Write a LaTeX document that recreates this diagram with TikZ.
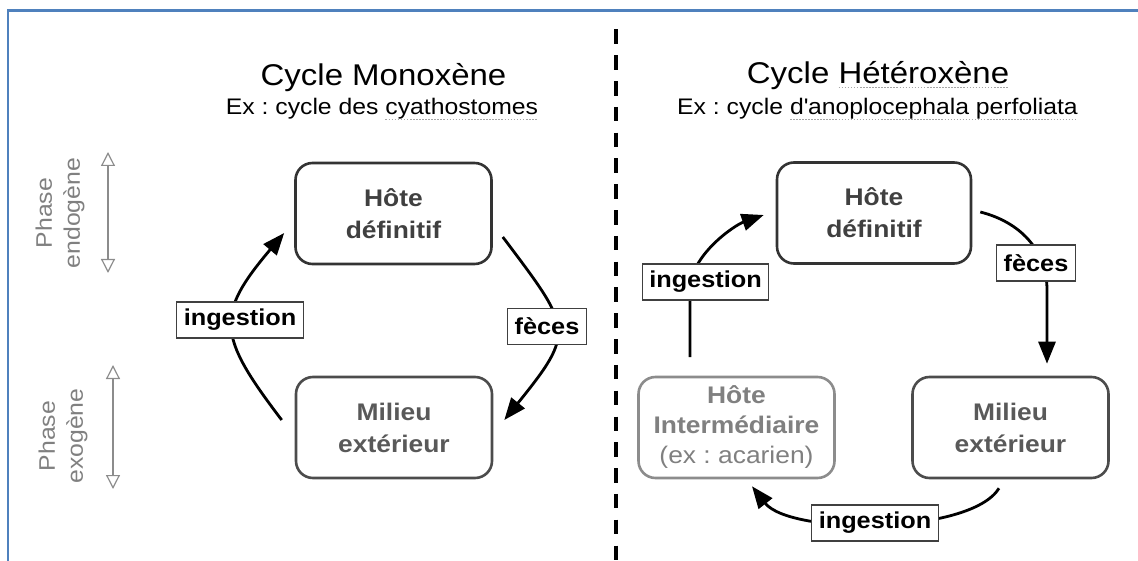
\documentclass[tikz,border=0pt]{standalone}
\usepackage{fontspec}
\setmainfont{Liberation Sans}[FakeStretch=1.1]
\usetikzlibrary{arrows.meta,calc}
\definecolor{frameblue}{HTML}{4F81BD}
\frenchspacing
\newsavebox\gulbox
\newcommand\gul[1]{\sbox\gulbox{#1}\rlap{\usebox\gulbox}\raisebox{-5pt}{\textcolor{black!35}{\hbox to \wd\gulbox{\xleaders\hbox{\rule{1.6pt}{1.2pt}\kern1.4pt}\hfill}}}}
\begin{document}
\begin{tikzpicture}[x=1pt,y=-1pt,
  every node/.style={inner sep=0pt},
  cbox/.style={draw=#1, line width=2.6pt, rounded corners=17pt, minimum width=196pt, minimum height=101pt, align=center},
  boxfont/.style={font=\fontsize{24}{32}\selectfont\bfseries},
  cyc/.style={line width=2.8pt, -{Triangle[length=22pt,width=17pt]}},
  lbl/.style={draw=black!75, line width=1.3pt, fill=white, font=\fontsize{23}{27}\selectfont\bfseries, inner xsep=7pt, minimum height=36pt},
  phase/.style={rotate=90, align=center, text=black!50, font=\fontsize{22.5}{28}\selectfont},
  dbl/.style={draw=black!45, line width=1.2pt, {Triangle[open,length=14pt,width=14pt]}-{Triangle[open,length=14pt,width=14pt]}},
  ttl/.style={anchor=base, font=\fontsize{30}{36}\selectfont},
  sub/.style={anchor=base, font=\fontsize{22.5}{27}\selectfont},
]
\useasboundingbox (0,0) rectangle (1138,561);

% frame
\coordinate (f1) at (8,561);
\coordinate (f2) at (8,10.5);
\coordinate (f3) at (1138,10.5);
\draw[frameblue, line width=2.5pt] (f1) -- (f2) -- (f3);

% divider
\coordinate (d1) at (616,29.5);
\coordinate (d2) at (616,561);
\draw[line width=4.2pt, dash pattern=on 14.5pt off 11.3pt] (d1) -- (d2);

% titles
\node[ttl] (t1) at (383.5,86) {Cycle Monoxène};
\node[sub] (s1) at (382,115) {Ex : cycle des \gul{cyathostomes}};
\node[ttl] (t2) at (878,83.5) {Cycle \gul{Hétéroxène}};
\node[sub] (s2) at (877.5,115) {Ex : cycle \gul{d\textquotesingle anoplocephala perfoliata}};

% phases
\node[phase] (pen) at (60,213) {Phase\\endogène};
\node[phase] (pex) at (63,436) {Phase\\exogène};
\coordinate (a1) at (108,152);
\coordinate (a2) at (108,273);
\coordinate (b1) at (113,365);
\coordinate (b2) at (113,489);
\draw[dbl] (a1) -- (a2);
\draw[dbl] (b1) -- (b2);

% boxes
\node[cbox=black!80, boxfont, text=black!75] (hd1) at (393.5,213.5) {Hôte\\définitif};
\node[cbox=black!70, boxfont, text=black!65] (me1) at (394,427.5) {Milieu\\extérieur};
\node[cbox=black!80, boxfont, text=black!75, minimum width=194pt] (hd2) at (874,213) {Hôte\\définitif};
\node[cbox=black!45, text=black!50, font=\fontsize{24}{30}\selectfont] (hi) at (736.5,427.5) {\textbf{Hôte}\\\textbf{Intermédiaire}\\(ex : acarien)};
\node[cbox=black!70, boxfont, text=black!65] (me2) at (1010.5,427.5) {Milieu\\extérieur};

% left cycle
\draw[cyc] ($(me1.west)+(-13,-7.5)$) .. controls (217,335) and (215,315) .. ($(hd1.west)+(-10,19.5)$);
\draw[cyc] ($(hd1.east)+(10,23.5)$) .. controls (572,329) and (576,331) .. ($(me1.east)+(11,-7.5)$);
\node[lbl] (ing1) at (240,320) {ingestion};
\node[lbl] (fec1) at (547,326.5) {fèces};

% right cycle
\draw[cyc] ($(hd2.east)+(8,-1)$) .. controls (1020,222) and (1047,250) .. (1047,290) -- ($(me2.north)+(36.5,-12)$);
\draw[cyc] ($(hi.north)+(-46.5,-18.5)$) -- (690,290) .. controls (690,255) and (735,225) .. ($(hd2.west)+(-12,2)$);
\draw[cyc] ($(me2.south)+(-11.5,9)$) .. controls (970,535) and (790,535) .. ($(hi.south)+(15.5,7)$);
\node[lbl] (fec2) at (1036,263) {fèces};
\node[lbl] (ing2) at (705.5,282) {ingestion};
\node[lbl] (ing3) at (875,523) {ingestion};
\end{tikzpicture}
\end{document}
